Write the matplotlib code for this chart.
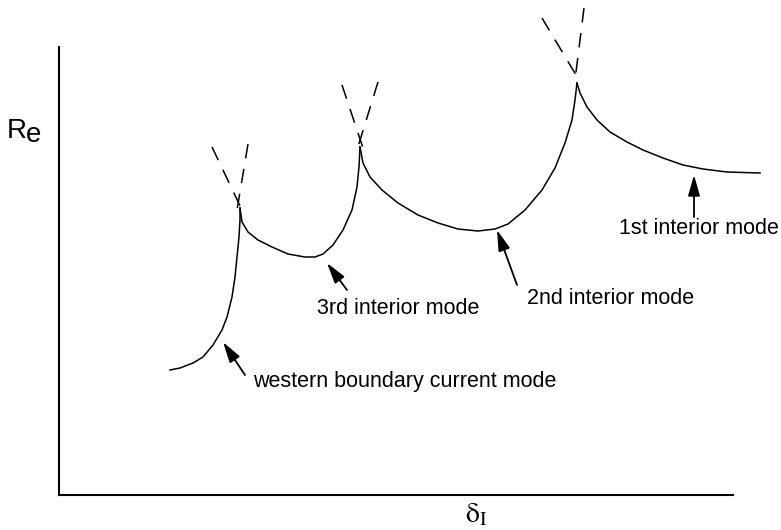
import matplotlib
matplotlib.use('Agg')
from matplotlib import pyplot as plt

# Curve branches (delta_I, Re), arbitrary units
wbc_delta = [111, 121, 134, 144, 154, 163, 168, 173, 176, 178, 180, 181, 181]
wbc_re = [125, 127, 132, 138, 150, 165, 178, 198, 218, 238, 258, 275, 287]

third_delta = [181, 183, 189, 199, 213, 229, 246, 256, 264, 274, 284, 293, 298, 300, 301]
third_re = [287, 273, 263, 255, 248, 241, 238, 238, 241, 250, 265, 285, 308, 328, 348]

second_delta = [301, 304, 311, 323, 339, 359, 379, 399, 419, 436, 449, 466, 483,
                496, 506, 513, 516, 518]
second_re = [348, 332, 318, 305, 292, 280, 272, 266, 264, 266, 271, 285, 305,
             327, 352, 375, 395, 412]

first_delta = [518, 521, 528, 538, 551, 568, 584, 604, 624, 644, 668, 701]
first_re = [412, 402, 388, 375, 363, 353, 345, 337, 330, 326, 323, 322]

# Dashed continuations above each cusp: (start, end) pairs
dash_delta = [(153, 183), (189, 178), (283, 304), (319, 298), (483, 520), (525, 516)]
dash_re = [(348, 285), (351, 285), (410, 347), (413, 345), (477, 415), (487, 415)]

# Labels: text, text position, arrow tail, arrow head
labels = ['western boundary current mode', '3rd interior mode',
          '2nd interior mode', '1st interior mode']
label_pos = [(194, 114), (258, 187), (468, 197), (560, 266)]
arrow_tail = [(186, 120), (288, 205), (458, 210), (635, 278)]
arrow_head = [(164, 153), (268, 232), (438, 265), (635, 320)]

fig = plt.figure(figsize=(7.81, 5.30), dpi=100)
ax = fig.add_axes([59 / 781, 35 / 530, 674 / 781, 448 / 530])
ax.set_xlim(0, 674)
ax.set_ylim(0, 448)

for d, r in [(wbc_delta, wbc_re), (third_delta, third_re),
             (second_delta, second_re), (first_delta, first_re)]:
    ax.plot(d, r, color='black', lw=1.1, clip_on=False, solid_joinstyle='round')

for d, r in zip(dash_delta, dash_re):
    ax.plot(d, r, color='black', lw=1.1, linestyle=(0, (9.5, 7)), clip_on=False)

for text, pos, tail, head in zip(labels, label_pos, arrow_tail, arrow_head):
    ax.annotate('', xy=head, xytext=tail,
                arrowprops=dict(arrowstyle='-|>,head_length=0.7,head_width=0.2',
                                mutation_scale=18, color='black', lw=1.3,
                                shrinkA=0, shrinkB=0),
                annotation_clip=False)
    ax.text(pos[0], pos[1], text, fontsize=15.5, family='Liberation Sans',
            ha='left', va='center')

# Axes: only left and bottom lines, no ticks
for side in ['top', 'right']:
    ax.spines[side].set_visible(False)
for side in ['left', 'bottom']:
    ax.spines[side].set_linewidth(1.5)
ax.set_xticks([])
ax.set_yticks([])

plt.rcParams['mathtext.fontset'] = 'stix'
fig.text(7 / 781, 1 - 138 / 530, 'R', fontsize=20, family='Liberation Sans',
         ha='left', va='baseline')
fig.text(26 / 781, 1 - 142 / 530, 'e', fontsize=20, family='Liberation Sans',
         ha='left', va='baseline')
fig.text(465 / 781, 1 - 522 / 530, r'$\mathrm{\delta}_\mathrm{I}$', fontsize=20,
         ha='left', va='baseline')

fig.savefig('out.png', dpi=100)
